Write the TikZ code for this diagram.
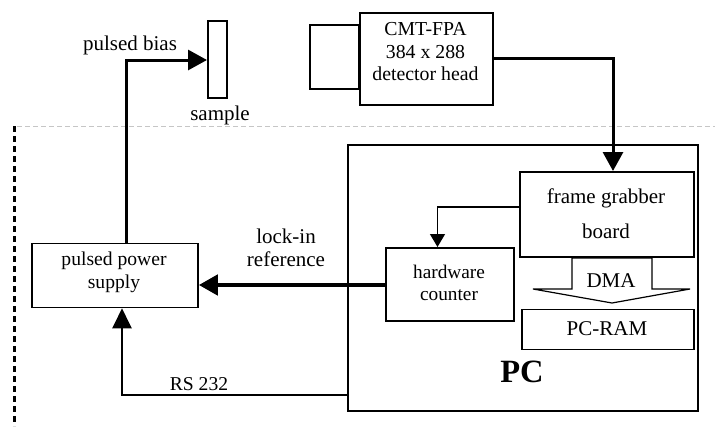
\documentclass[tikz,border=0pt]{standalone}
\usepackage{fontspec}
\setmainfont{Liberation Serif}
\usetikzlibrary{arrows.meta}
\begin{document}
\begin{tikzpicture}[x=1pt,y=-1pt,
  box/.style={draw,line width=1.8pt,inner sep=0pt,anchor=north west},
  lbl/.style={inner sep=0pt,align=center,font=\fontsize{21}{23}\selectfont},
  big/.style={-{Triangle[length=19pt,width=20pt]}},
  small/.style={-{Triangle[length=13pt,width=15pt]}}]
\useasboundingbox (0,0) rectangle (715,426);

% separators
\draw[gray!45,line width=1pt,dash pattern=on 5pt off 3pt] (17,126.5) -- (715,126.5);
\draw[line width=3pt,dash pattern=on 6pt off 4pt] (14,126) -- (14,426);

% sample
\node[box,minimum width=19pt,minimum height=77pt] (smp) at (207,20) {};
\node[lbl] (smpt) at (220,115) {sample};

% detector head
\node[box,minimum width=49pt,minimum height=64pt] (det) at (309,24) {};
\node[box,minimum width=133pt,minimum height=92pt] (cam) at (359,12) {};
\node[lbl,font=\fontsize{19.8}{22.5}\selectfont] (camt) at (425.5,52) {CMT-FPA\\384 x 288\\detector head};

% PC enclosure
\node[box,minimum width=350pt,minimum height=266pt] (pc) at (347,144) {};
\node[inner sep=0pt,font=\fontsize{32.5}{34}\selectfont\bfseries] (pct) at (522,372) {PC};

% frame grabber
\node[box,minimum width=174pt,minimum height=85pt] (fg) at (519,171) {};
\node[lbl,font=\fontsize{21}{35}\selectfont] (fgt) at (606,214) {frame grabber\\board};

% hardware counter
\node[box,minimum width=128pt,minimum height=73pt] (hc) at (385,247) {};
\node[lbl,font=\fontsize{19.3}{21.5}\selectfont] (hct) at (449,283) {hardware\\counter};

% PC-RAM
\node[box,minimum width=172pt,minimum height=40pt] (ram) at (521,308.5) {};
\node[lbl] (ramt) at (607,328.5) {PC-RAM};

% DMA block arrow
\draw[line width=1.2pt,fill=white] (572,258) -- (652,258) -- (652,289) -- (690,289)
  -- (612,303) -- (533,289) -- (572,289) -- cycle;
\node[lbl] (dmat) at (611,281) {DMA};

% pulsed power supply
\node[box,minimum width=166pt,minimum height=64pt] (pps) at (31,242.5) {};
\node[lbl,font=\fontsize{19.6}{23}\selectfont] (ppst) at (114,272) {pulsed power\\supply};

% connectors
\coordinate (bend1) at (126,60);
\draw[big,line width=3pt] (pps.north -| bend1) -- (bend1) -- (smp.west |- bend1);
\node[lbl] (pbt) at (130,45) {pulsed bias};

\coordinate (bend2) at (613,58);
\draw[big,line width=3pt] (cam.east |- bend2) -- (bend2) -- (bend2 |- fg.north);

\coordinate (bend3) at (437.5,207);
\draw[small,line width=1.4pt] (fg.west |- bend3) -- (bend3) -- (bend3 |- hc.north);

\coordinate (lk) at (385,285);
\draw[big,line width=4.5pt] (hc.west |- lk) -- (pps.east |- lk);
\node[lbl] (lkt) at (286,248) {lock-in\\reference};

\coordinate (bend4) at (122,395);
\draw[-{Triangle[length=20pt,width=19pt]},line width=2.4pt] (pc.west |- bend4) -- (bend4) -- (bend4 |- pps.south);
\node[lbl,font=\fontsize{19.6}{22}\selectfont] (rst) at (199,384) {RS 232};
\end{tikzpicture}
\end{document}
